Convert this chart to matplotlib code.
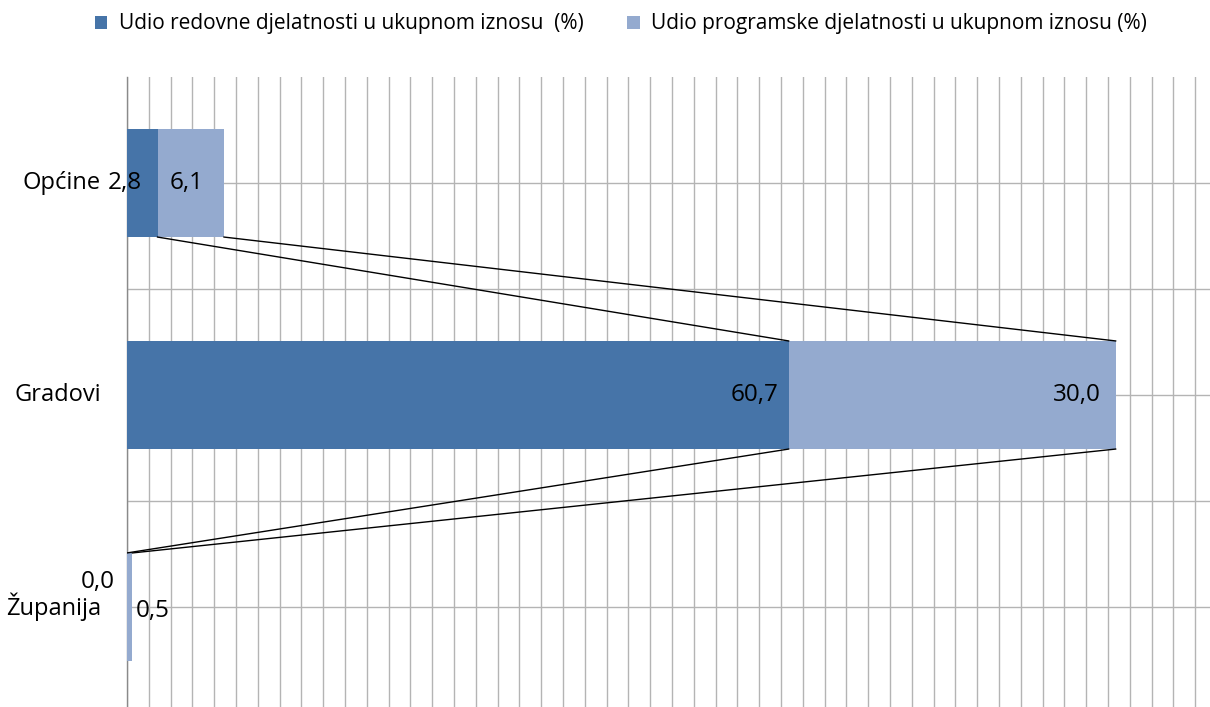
import matplotlib
matplotlib.use("Agg")
import matplotlib.pyplot as plt
from matplotlib.patches import Patch

categories = ["Općine", "Gradovi", "Županija"]
redovna = [2.8, 60.7, 0.0]
programska = [6.1, 30.0, 0.5]
labels_red = ["2,8", "60,7", "0,0"]
labels_prog = ["6,1", "30,0", "0,5"]
legend_labels = ["Udio redovne djelatnosti u ukupnom iznosu  (%)",
                 "Udio programske djelatnosti u ukupnom iznosu (%)"]

c_dark = "#4674A8"
c_light = "#94AACF"
grid_c = "#b4b4b4"

plt.rcParams['font.family'] = ['Open Sans', 'DejaVu Sans']

fig = plt.figure(figsize=(12.10, 7.07), dpi=100)
W, H = 1210, 707
ax = fig.add_axes([127 / W, (H - 713) / H, (W - 127) / W, 636 / H])

pos = list(range(len(categories)))
bh = 0.51
ax.barh(pos, redovna, height=bh, color=c_dark, zorder=3)
ax.barh(pos, programska, left=redovna, height=bh, color=c_light, zorder=3)

# series lines
cum1 = redovna
cum2 = [r + p for r, p in zip(redovna, programska)]
for i in range(len(pos) - 1):
    for cum in (cum1, cum2):
        ax.plot([cum[i], cum[i + 1]], [pos[i] + bh / 2, pos[i + 1] - bh / 2],
                color="black", lw=1.0, zorder=4)

ax.set_xlim(0, (W - 127) / 10.9)
ax.set_ylim(2.5, -0.5)
ax.set_xticks([x for x in range(0, 100, 2)])
ax.set_yticks([0, 0.5, 1, 1.5, 2], minor=False)
ax.set_yticklabels([])
ax.grid(True, color=grid_c, lw=1.0, zorder=0)
ax.tick_params(length=0, labelbottom=False)
for s in ("top", "right", "bottom"):
    ax.spines[s].set_visible(False)
ax.spines["left"].set_color("#8a8a8a")
ax.spines["left"].set_linewidth(1.0)

# category labels
fs_cat = 17
for i, c in enumerate(categories):
    ax.annotate(c, xy=(0, pos[i]), xytext=(-26, 0), textcoords="offset pixels",
                ha="right", va="center", fontsize=fs_cat, color="black")

fs_lab = 17.5
# Općine
ax.annotate(labels_red[0], xy=(redovna[0] / 2, pos[0]), xytext=(-17, 0),
            textcoords="offset pixels", ha="center", va="center", fontsize=fs_lab, zorder=5)
ax.annotate(labels_prog[0], xy=(redovna[0] + programska[0] / 2, pos[0]), xytext=(-4, 0),
            textcoords="offset pixels", ha="center", va="center", fontsize=fs_lab, zorder=5)
# Gradovi
ax.annotate(labels_red[1], xy=(redovna[1], pos[1]), xytext=(-10, 0),
            textcoords="offset pixels", ha="right", va="center", fontsize=fs_lab, zorder=5)
ax.annotate(labels_prog[1], xy=(cum2[1], pos[1]), xytext=(-15, 0),
            textcoords="offset pixels", ha="right", va="center", fontsize=fs_lab, zorder=5)
# Županija
ax.annotate(labels_red[2], xy=(redovna[2], pos[2]), xytext=(-12, 25),
            textcoords="offset pixels", ha="right", va="center", fontsize=fs_lab, zorder=5)
ax.annotate(labels_prog[2], xy=(cum2[2], pos[2]), xytext=(3, -4),
            textcoords="offset pixels", ha="left", va="center", fontsize=fs_lab, zorder=5)

handles = [Patch(facecolor=c_dark), Patch(facecolor=c_light)]
fig.legend(handles, legend_labels, loc="center", bbox_to_anchor=(621 / W, 1 - 24 / H),
           ncol=2, frameon=False, fontsize=15, handlelength=0.6, handleheight=0.6,
           handletextpad=0.55, columnspacing=2.1)

fig.savefig("out.png", dpi=100)
